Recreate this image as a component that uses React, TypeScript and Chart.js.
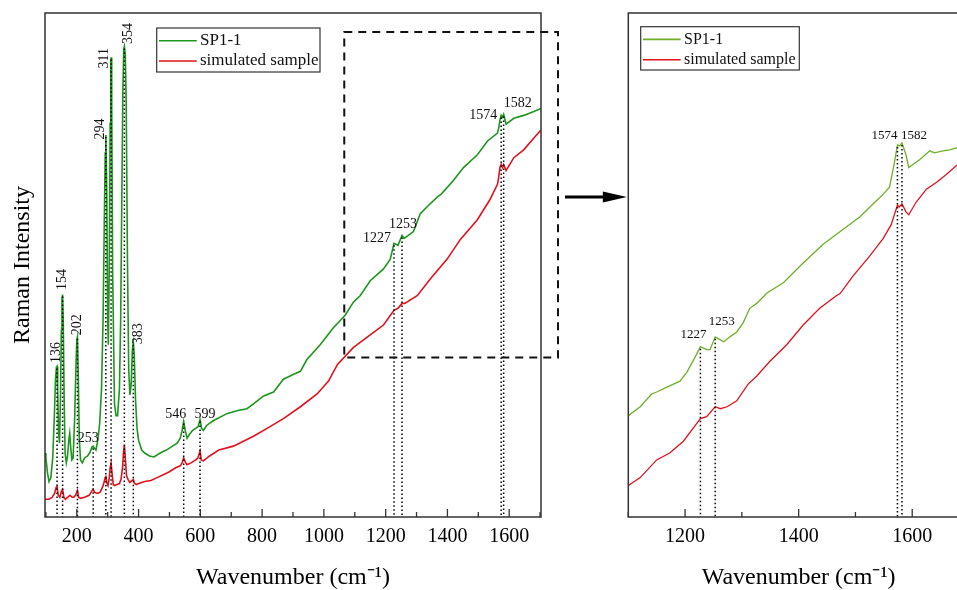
import React, { useEffect, useRef } from 'react';
import { Chart, registerables } from 'chart.js';

Chart.register(...registerables);

const FONT = '"Liberation Serif", "Times New Roman", serif';
const LEFT_GREEN = 'rgb(28,150,28)';
const RIGHT_GREEN = 'rgb(110,176,40)';
const RED = 'rgb(226,18,28)';

// ---------- Left panel: full spectrum (wavenumber cm-1, intensity a.u.) ----------
const fullSpWn = [97,100,105,110,116,122,127,131,134,136,138,141,144,147,150,152,154,156,159,162,166,170,174,177,180,184,188,193,197,200,202,205,208,212,218,225,235,243,249,253,257,262,268,274,280,285,289,292,294,297,300,302,305,308,310,311,313,316,322,327,332,338,342,345,349,352,354,357,360,364,368,372,376,380,383,386,390,395,400,410,420,435,450,470,490,510,525,535,541,546,551,557,565,575,585,593,599,604,610,620,643,686,718,751,772,805,837,869,902,924,945,988,1030,1069,1095,1118,1150,1193,1215,1227,1240,1253,1260,1290,1312,1340,1367,1380,1420,1452,1497,1530,1562,1566,1570,1574,1578,1582,1590,1615,1647,1680,1703];
const fullSpInt = [65,60,45,36,40,60,100,140,152,153,130,85,75,120,190,222,226,200,120,65,55,62,78,85,72,58,60,100,150,180,183,140,80,58,55,60,62,66,71,72,70,68,78,95,130,200,300,370,388,330,200,175,250,400,462,467,420,250,115,103,103,130,200,300,430,475,478,470,420,260,150,124,135,170,177,165,120,90,78,68,65,62,61,65,68,72,75,80,88,97,88,80,84,88,90,92,99,90,88,93,98,105,108,110,115,123,127,140,145,148,160,175,192,205,218,225,240,252,262,278,276,286,283,290,308,317,325,328,342,355,368,382,390,395,403,408,406,409,399,405,408,412,415];

const fullSimWn = [97,110,120,128,133,136,140,145,150,154,158,163,170,178,185,190,196,202,206,212,225,240,250,253,258,266,275,283,288,292,294,297,301,305,308,311,314,318,322,330,338,343,348,351,354,357,361,366,372,378,383,387,393,400,420,440,460,480,500,520,535,541,546,551,557,570,585,592,599,603,610,630,660,707,772,816,869,924,978,1015,1044,1095,1150,1193,1227,1240,1253,1262,1303,1345,1399,1442,1497,1537,1562,1566,1570,1574,1578,1582,1590,1615,1647,1680,1703];
const fullSimInt = [18,18,20,24,30,31,22,20,26,28,20,18,20,22,20,20,22,27,20,19,20,22,27,28,25,24,25,30,35,40,42,35,32,40,50,55,45,33,32,33,34,38,50,65,73,60,42,38,35,37,38,34,33,34,36,37,40,43,46,50,52,55,60,56,53,55,58,60,67,58,57,62,68,72,82,90,100,112,125,138,155,172,185,195,210,212,217,217,225,242,262,282,302,322,338,345,355,358,355,358,352,365,373,385,393];

const fullPeaks = [136,154,202,253,294,311,354,383,546,599,1227,1253,1574,1582];

// ---------- Right panel: enlarged 1100-1700 cm-1 ----------
const zoomSpWn = [1100,1121,1141,1150,1168,1191,1203,1220,1227,1238,1244,1253,1259,1268,1279,1291,1302,1314,1326,1340,1343,1373,1408,1443,1478,1508,1531,1549,1560,1568,1574,1578,1582,1589,1594,1601,1613,1631,1639,1654,1666,1678,1700];
const zoomSpInt = [103,112,125,127,132,138,147,165,173,170,170,183,181,178,183,188,197,212,217,225,227,238,258,277,292,305,318,328,335,358,378,377,380,368,355,358,363,372,370,372,373,375,378];

const zoomSimWn = [1100,1121,1150,1173,1197,1214,1227,1238,1253,1262,1274,1291,1311,1326,1349,1379,1408,1437,1467,1473,1496,1525,1549,1563,1574,1577,1582,1589,1594,1607,1625,1643,1660,1678,1700];
const zoomSimInt = [32,40,58,65,77,90,100,102,112,110,112,118,135,143,158,175,195,212,225,227,245,265,283,297,317,315,318,310,307,320,333,340,348,357,365];

const zoomPeaks = [1227,1253,1574,1582];

// x tick labels
const fullTickLabels = [200,400,600,800,1000,1200,1400,1600];
const zoomTickLabels = [1200,1400,1600];

// ---------- label placement (styling, offsets from the peak point in px) ----------
const fullLabelStyle: Record<number, { dx: number; dy: number; rot: boolean }> = {
  136: { dx: -1, dy: -14, rot: true },
  154: { dx: 0, dy: -15, rot: true },
  202: { dx: 0, dy: -12, rot: true },
  253: { dx: -5, dy: -8, rot: false },
  294: { dx: -6, dy: -6, rot: true },
  311: { dx: -6.5, dy: 1, rot: true },
  354: { dx: 4, dy: -13, rot: true },
  383: { dx: 5, dy: -9, rot: true },
  546: { dx: -8, dy: -7, rot: false },
  599: { dx: 5, dy: -5, rot: false },
  1227: { dx: -17, dy: -5, rot: false },
  1253: { dx: 1, dy: -11, rot: false },
  1574: { dx: -18, dy: 0, rot: false },
  1582: { dx: 14, dy: -11, rot: false },
};
const zoomLabelStyle: Record<number, { dx: number; dy: number; rot: boolean }> = {
  1227: { dx: -7, dy: -12, rot: false },
  1253: { dx: 6.5, dy: -15, rot: false },
  1574: { dx: -13, dy: -9, rot: false },
  1582: { dx: 12, dy: -7, rot: false },
};

function toPts(xs: number[], ys: number[]) {
  return xs.map((x, i) => ({ x, y: ys[i] }));
}

function interp(xs: number[], ys: number[], x: number) {
  for (let i = 1; i < xs.length; i++) {
    if (x <= xs[i]) {
      const t = (x - xs[i - 1]) / (xs[i] - xs[i - 1]);
      return ys[i - 1] + t * (ys[i] - ys[i - 1]);
    }
  }
  return ys[ys.length - 1];
}

function framePlugin(id: string) {
  return {
    id,
    afterDraw(chart: any) {
      const { ctx, chartArea: a } = chart;
      const xs = chart.scales.x;
      ctx.save();
      ctx.strokeStyle = '#333';
      ctx.lineWidth = 1.5;
      ctx.strokeRect(a.left, a.top, a.right - a.left, a.bottom - a.top);
      ctx.lineWidth = 1.3;
      const start = Math.ceil(xs.min / 100) * 100;
      for (let v = start; v <= xs.max; v += 100) {
        const px = xs.getPixelForValue(v);
        const len = v % 200 === 0 ? 8 : 5;
        ctx.beginPath();
        ctx.moveTo(px, a.bottom);
        ctx.lineTo(px, a.bottom - len);
        ctx.stroke();
      }
      ctx.restore();
    },
  };
}

function peakPlugin(id: string, peaks: number[], refX: number[], refY: number[], style: Record<number, any>, fontSize: number) {
  return {
    id,
    afterDatasetsDraw(chart: any) {
      const { ctx, chartArea: a } = chart;
      const xs = chart.scales.x;
      const ys = chart.scales.y;
      ctx.save();
      ctx.strokeStyle = '#000';
      ctx.lineWidth = 1.5;
      ctx.setLineDash([1.5, 2.5]);
      for (const p of peaks) {
        const px = xs.getPixelForValue(p);
        const py = ys.getPixelForValue(interp(refX, refY, p));
        ctx.beginPath();
        ctx.moveTo(px, py + 2);
        ctx.lineTo(px, a.bottom);
        ctx.stroke();
      }
      ctx.setLineDash([]);
      ctx.fillStyle = '#111';
      ctx.font = `${fontSize}px ${FONT}`;
      ctx.textAlign = 'center';
      ctx.textBaseline = 'middle';
      for (const p of peaks) {
        const s = style[p];
        const px = xs.getPixelForValue(p) + s.dx;
        const py = ys.getPixelForValue(interp(refX, refY, p)) + s.dy;
        ctx.save();
        ctx.translate(px, py);
        if (s.rot) ctx.rotate(-Math.PI / 2);
        ctx.fillText(String(p), 0, 0);
        ctx.restore();
      }
      ctx.restore();
    },
  };
}

function legendPlugin(id: string, box: { dx: number; dy: number; w: number; h: number; fs: number }) {
  return {
    id,
    afterDraw(chart: any) {
      const { ctx, chartArea: a } = chart;
      const x = a.left + box.dx;
      const y = a.top + box.dy;
      ctx.save();
      ctx.fillStyle = '#fff';
      ctx.fillRect(x, y, box.w, box.h);
      ctx.strokeStyle = '#333';
      ctx.lineWidth = 1.2;
      ctx.strokeRect(x, y, box.w, box.h);
      ctx.font = `${box.fs}px ${FONT}`;
      ctx.textBaseline = 'middle';
      ctx.textAlign = 'left';
      chart.data.datasets.forEach((ds: any, i: number) => {
        const ry = y + 12.7 + i * 20.3;
        ctx.strokeStyle = ds.borderColor;
        ctx.lineWidth = 1.6;
        ctx.beginPath();
        ctx.moveTo(x + 2.3, ry);
        ctx.lineTo(x + 40, ry);
        ctx.stroke();
        ctx.fillStyle = '#111';
        ctx.fillText(ds.label, x + 43.3, ry);
      });
      ctx.restore();
    },
  };
}

const zoomBoxPlugin = {
  id: 'zoomBox',
  afterDraw(chart: any) {
    const { ctx, chartArea: a } = chart;
    const xs = chart.scales.x;
    const ys = chart.scales.y;
    const x1 = xs.getPixelForValue(1066);
    const x2 = a.right + 17;
    const y1 = a.top + 19;
    const y2 = ys.getPixelForValue(162);
    ctx.save();
    ctx.strokeStyle = '#111';
    ctx.lineWidth = 2;
    ctx.setLineDash([8, 6]);
    ctx.strokeRect(x1, y1, x2 - x1, y2 - y1);
    ctx.restore();
  },
};

const arrowPlugin = {
  id: 'arrow',
  afterDraw(chart: any) {
    const { ctx, chartArea: a } = chart;
    const y = 197;
    const tip = a.left - 1.5;
    ctx.save();
    ctx.strokeStyle = '#000';
    ctx.fillStyle = '#000';
    ctx.lineWidth = 3;
    ctx.beginPath();
    ctx.moveTo(5, y);
    ctx.lineTo(tip - 20, y);
    ctx.stroke();
    ctx.beginPath();
    ctx.moveTo(tip, y);
    ctx.lineTo(tip - 24, y - 5.5);
    ctx.lineTo(tip - 24, y + 5.5);
    ctx.closePath();
    ctx.fill();
    ctx.restore();
  },
};

function xAxis(min: number, max: number, labels: number[]) {
  return {
    type: 'linear' as const,
    min,
    max,
    afterBuildTicks: (axis: any) => {
      axis.ticks = labels.map((v) => ({ value: v }));
    },
    grid: { display: false, drawTicks: false },
    border: { display: false },
    ticks: {
      font: { family: FONT, size: 20, lineHeight: 1.2 },
      color: '#000',
      padding: 8,
      maxRotation: 0,
      autoSkip: false,
      callback: (v: any) => String(v),
    },
    title: {
      display: true,
      text: 'Wavenumber (cm⁻¹)',
      font: { family: FONT, size: 24, lineHeight: 1 },
      color: '#000',
      padding: { top: 9, bottom: 0 },
    },
  };
}

export default function App() {
  const leftRef = useRef<HTMLCanvasElement>(null);
  const rightRef = useRef<HTMLCanvasElement>(null);

  useEffect(() => {
    const left = new Chart(leftRef.current!, {
      type: 'line',
      data: {
        datasets: [
          { label: 'SP1-1', data: toPts(fullSpWn, fullSpInt), borderColor: LEFT_GREEN, borderWidth: 1.6, pointRadius: 0, tension: 0 },
          { label: 'simulated sample', data: toPts(fullSimWn, fullSimInt), borderColor: RED, borderWidth: 1.6, pointRadius: 0, tension: 0 },
        ],
      },
      options: {
        responsive: false,
        animation: false,
        layout: { padding: { left: 0, top: 13, right: 19, bottom: 0 } },
        plugins: { legend: { display: false }, tooltip: { enabled: false } },
        scales: {
          x: xAxis(97, 1703, fullTickLabels),
          y: {
            min: 0,
            max: 512,
            ticks: { display: false },
            grid: { display: false, drawTicks: false },
            border: { display: false },
            title: {
              display: true,
              text: 'Raman Intensity',
              font: { family: FONT, size: 24, lineHeight: 1.2 },
              color: '#000',
              padding: { top: 8.1, bottom: 8.1 },
            },
          },
        },
      } as any,
      plugins: [
        framePlugin('frameL'),
        peakPlugin('peaksL', fullPeaks, fullSpWn, fullSpInt, fullLabelStyle, 14),
        legendPlugin('legendL', { dx: 111.7, dy: 15, w: 163.3, h: 44, fs: 17 }),
        zoomBoxPlugin,
      ],
    });

    const right = new Chart(rightRef.current!, {
      type: 'line',
      data: {
        datasets: [
          { label: 'SP1-1', data: toPts(zoomSpWn, zoomSpInt), borderColor: RIGHT_GREEN, borderWidth: 1.3, pointRadius: 0, tension: 0 },
          { label: 'simulated sample', data: toPts(zoomSimWn, zoomSimInt), borderColor: RED, borderWidth: 1.3, pointRadius: 0, tension: 0 },
        ],
      },
      options: {
        responsive: false,
        animation: false,
        layout: { padding: { left: 68.3, top: 13, right: 11, bottom: 0 } },
        plugins: { legend: { display: false }, tooltip: { enabled: false } },
        scales: {
          x: xAxis(1100, 1700, zoomTickLabels),
          y: { display: false, min: 0, max: 512 },
        },
      } as any,
      plugins: [
        framePlugin('frameR'),
        peakPlugin('peaksR', zoomPeaks, zoomSpWn, zoomSpInt, zoomLabelStyle, 13),
        legendPlugin('legendR', { dx: 12.4, dy: 13.7, w: 158.6, h: 43.3, fs: 16 }),
        arrowPlugin,
      ],
    });

    return () => {
      left.destroy();
      right.destroy();
    };
  }, []);

  return (
    <div style={{ position: 'fixed', left: 0, top: 0, width: 957, height: 590, overflow: 'hidden', background: '#fff' }}>
      <canvas ref={leftRef} width={560} height={590} style={{ position: 'absolute', left: 0, top: 0 }} />
      <canvas ref={rightRef} width={420} height={590} style={{ position: 'absolute', left: 560, top: 0 }} />
    </div>
  );
}
